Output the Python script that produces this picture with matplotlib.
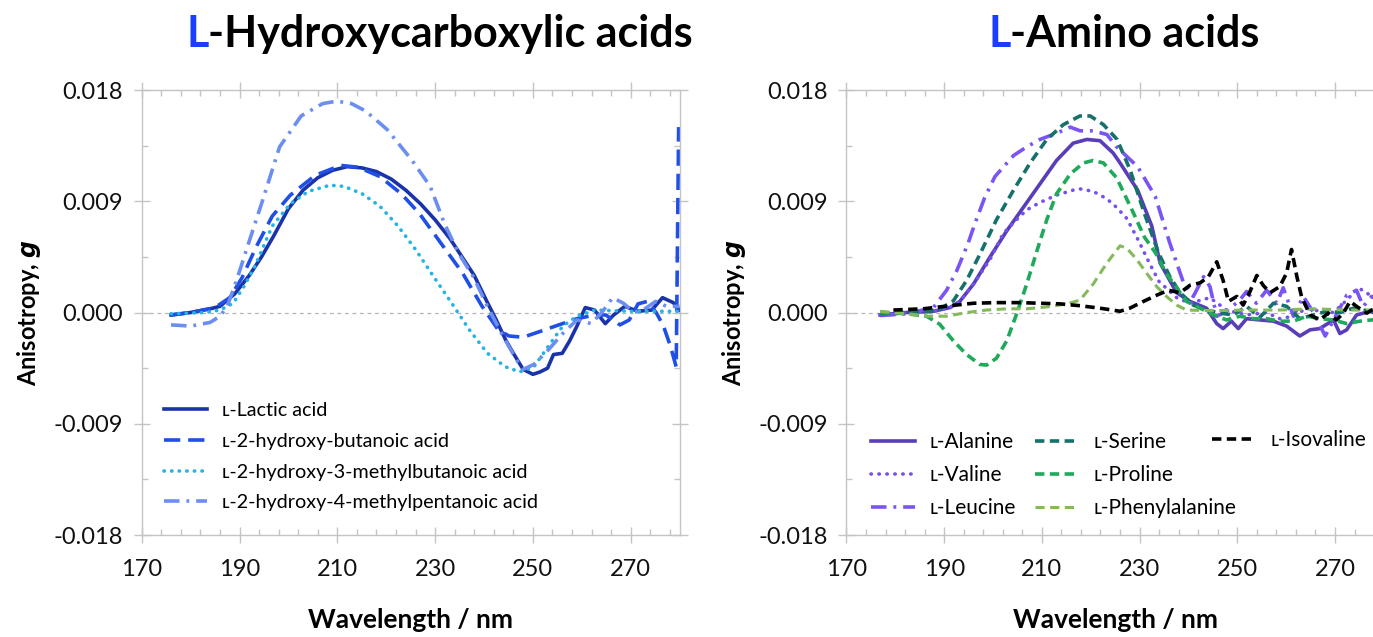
import matplotlib
matplotlib.use('Agg')
import matplotlib.pyplot as plt
from matplotlib.ticker import FormatStrFormatter
import numpy as np

plt.rcParams['font.family'] = ['Lato', 'DejaVu Sans']
plt.rcParams['axes.unicode_minus'] = False

# ---- left panel: L-hydroxycarboxylic acids (g in units of 1e-3) ----
lactic_nm = [176, 180, 184, 186, 189, 192, 194.5, 197, 200, 203, 206, 209, 212, 215, 218, 221,
             224, 227, 230, 233, 236, 238, 240.7, 242.5, 244.4, 246, 248, 250, 251.5, 253, 254.2,
             256, 257.5, 259, 260.7, 262.6, 264.8, 266.5, 268.8, 271.4, 274.3, 276.5, 278.7, 280]
lactic_g = [-0.2, 0.0, 0.3, 0.5, 1.5, 3.0, 4.5, 6.2, 8.4, 9.9, 10.9, 11.5, 11.8, 11.7, 11.4, 10.8,
            9.9, 8.8, 7.5, 6.0, 4.2, 3.0, 0.8, -0.6, -2.2, -3.3, -4.6, -5.0, -4.8, -4.5, -3.4,
            -3.3, -2.3, -1.1, 0.4, 0.2, -0.9, -0.2, 0.5, 0.1, 0.2, 1.2, 0.8, 0.2]

butanoic_nm = [176, 180, 185, 188, 190.5, 193.4, 196.7, 200.4, 205.5, 210.7, 214.3, 218.7, 223.1,
               226.8, 231.2, 235.6, 239.6, 242.9, 245.1, 248, 251.7, 255.3, 259, 262.7, 264.9,
               267.8, 269.7, 271.5, 273.4, 275.2, 276.7, 278.1, 279.3, 279.8]
butanoic_g = [-0.2, 0.0, 0.4, 1.2, 2.8, 5.3, 7.8, 9.5, 11.1, 11.9, 11.75, 11.0, 9.6,
              8.0, 5.6, 3.2, 0.5, -1.4, -1.9, -2.0, -1.5, -1.0, -0.5, -0.2, -0.2,
              -1.0, -0.6, 0.7, 0.9, 0.0, -1.1, -2.7, -4.4, 15.0]

mbutanoic_nm = [176, 183, 186, 188.7, 190.9, 193.1, 196.7, 200.4, 204.1, 208.5, 211.4, 215.1, 218.7,
                222.4, 226.0, 229.7, 233.4, 237.0, 240.7, 244.4, 247.3, 250.2, 253.2, 256.1,
                259.0, 262.7, 270, 280]
mbutanoic_g = [-0.1, 0.0, 0.2, 0.75, 2.1, 3.7, 7.0, 8.8, 9.8, 10.3, 10.2, 9.6, 8.6,
               7.0, 5.1, 2.9, 0.75, -1.4, -3.3, -4.4, -4.8, -4.4, -2.7, -1.1,
               -0.3, 0.2, 0.1, 0.1]

mpentanoic_nm = [176, 180, 184, 186, 187.5, 189.4, 191.6, 194.5, 198.2, 202.6, 207.0, 209.9, 212.9,
                 215.8, 220.2, 225.3, 229.0, 231.9, 234.8, 237.8, 240.7, 243.6, 246.6, 248.0,
                 250.2, 253.2, 256.1, 259.0, 261.9, 264.1, 266.3, 268.5, 270.7, 272.9, 275.1,
                 277.3, 280]
mpentanoic_g = [-1.0, -1.1, -0.8, -0.3, 0.5, 2.6, 5.3, 8.8, 13.4, 15.9, 16.9, 17.1, 16.9,
                16.3, 14.8, 12.3, 10.2, 7.2, 4.8, 2.9, 0.5, -1.7, -3.8, -4.6,
                -4.2, -3.0, -1.7, -0.6, -0.9, 0.0, 1.2, 0.75, 0.0, 0.3, 0.9,
                0.5, 0.5]

# ---- right panel: L-amino acids ----
alanine_nm = [176.9, 182.3, 187.8, 191.2, 193.2, 196.0, 199.4, 202.8, 206.2, 209.6, 213.0, 216.4,
              219.2, 221.9, 224.6, 226.0, 229.6, 232.5, 234.2, 237.6, 240.3, 243.7, 245.8, 247.1,
              248.8, 250.2, 251.9, 254.6, 257.4, 260.1, 262.8, 264.9, 266.9, 269.7, 271.0, 272.4,
              274.4, 277.2, 280]
alanine_g = [-0.2, 0.0, 0.1, 0.4, 0.9, 2.3, 4.5, 6.6, 8.5, 10.4, 12.3, 13.7,
             14.0, 13.9, 12.9, 12.1, 9.9, 7.0, 4.0, 1.6, 0.9, 0.35, -0.9, -1.3,
             -0.7, -1.3, -0.5, -0.6, -0.7, -1.1, -1.9, -1.4, -1.3, -0.6, -1.7, -1.4,
             -0.2, 0.1, -0.3]

valine_nm = [176.9, 182.3, 187.8, 191.2, 193.2, 196.0, 199.4, 202.1, 204.8, 206.9, 209.6, 213.0,
             216.4, 217.8, 220.5, 223.3, 225.3, 227.4, 229.8, 232.0, 234.0, 237.6, 240.3, 244.4,
             247.8, 251.9, 256.0, 258.7, 261.5, 264.2, 266.9, 269.7, 272.4, 274.8, 277.2, 280]
valine_g = [-0.2, 0.0, 0.1, 0.4, 0.9, 2.3, 4.3, 6.4, 7.5, 8.3, 8.9, 9.5,
            9.9, 10.0, 9.8, 9.2, 8.5, 7.6, 5.8, 4.0, 2.5, 1.2, 0.75, 1.2,
            0.2, -0.2, 0.0, -0.5, -0.3, 0.35, 0.1, 0.0, 1.0, 2.0, 1.4, 0.8]

leucine_nm = [176.9, 182.3, 187.8, 190.5, 192.6, 194.9, 196.3, 198.3, 200.4, 204.2, 206.9, 209.6,
              213.0, 215.8, 217.8, 220.5, 223.3, 225.3, 229.6, 233.2, 236.2, 237.6, 239.0, 241.0,
              243.1, 244.4, 245.8, 247.8, 250.5, 251.9, 253.9, 256.0, 258.1, 259.4, 261.5, 263.5,
              265.6, 268.0, 269.7, 272.4, 274.4, 275.8, 277.5, 280]
leucine_g = [-0.25, -0.1, 0.4, 1.8, 3.4, 5.6, 7.2, 9.3, 11.0, 12.7, 13.4, 14.0,
             14.5, 15.0, 14.7, 14.7, 14.4, 13.4, 11.8, 9.4, 5.6, 4.0, 2.4, 1.3,
             2.9, 2.1, -0.3, 0.1, 1.0, 1.7, 0.75, 1.8, 0.75, 2.0, -0.3, 1.3,
             0.0, -1.9, -0.6, 1.4, 1.8, 0.5, 1.3, 0.8]

serine_nm = [176.9, 182.3, 187.0, 189.2, 191.9, 194.6, 197.3, 200.7, 204.2, 207.6, 211.0, 214.4,
             217.8, 219.9, 222.6, 225.4, 228.1, 231.0, 233.9, 236.2, 238.3, 241.0, 243.7, 246.5,
             249.2, 251.9, 254.6, 257.4, 260.1, 262.8, 265.6, 268.3, 271.0, 273.8, 277.2, 280]
serine_g = [-0.1, 0.0, 0.1, 0.3, 0.95, 2.6, 4.7, 7.5, 9.9, 12.1, 14.0, 15.2,
            15.9, 15.9, 15.2, 14.0, 11.5, 8.0, 4.8, 2.9, 1.6, 0.6, 0.2, -0.05,
            -0.2, 0.5, -0.4, 0.75, 0.5, -0.5, -0.2, 0.1, 0.0, 0.35, 0.1, 0.0]

proline_nm = [176.9, 182.3, 186.4, 189.1, 191.9, 194.6, 197.3, 198.7, 200.7, 202.8, 204.8, 206.9,
              209.0, 211.0, 213.0, 215.8, 218.5, 220.5, 222.6, 225.3, 228.8, 231.0, 233.3, 235.4,
              237.6, 239.6, 242.4, 245.1, 247.8, 250.5, 253.3, 256.0, 258.7, 261.5, 264.2, 266.9,
              269.7, 272.4, 275.1, 277.5, 280]
proline_g = [0.0, -0.1, -0.3, -0.95, -2.3, -3.4, -4.2, -4.25, -3.7, -2.3, -0.15, 2.3,
             5.0, 7.5, 9.6, 11.2, 12.1, 12.3, 12.1, 10.9, 8.0, 6.1, 4.8, 3.2,
             2.0, 0.9, 0.35, -0.2, -0.6, -0.3, -0.5, -0.5, -0.7, -0.7, -0.3, -0.5,
             -0.6, -0.9, -0.7, -0.6, -0.6]

phenyl_nm = [176.9, 182.3, 186.4, 190.5, 194.6, 198.7, 202.8, 206.9, 211.0, 215.1, 217.8, 220.5,
             223.3, 226.0, 227.4, 229.4, 231.4, 233.5, 235.5, 237.6, 239.6, 245.1, 251.9, 258.7,
             265.6, 272.4, 280]
phenyl_g = [0.1, -0.1, -0.3, -0.3, 0.0, 0.2, 0.3, 0.3, 0.45, 0.7, 1.0, 2.3,
            4.0, 5.4, 5.2, 4.3, 3.2, 2.1, 1.3, 0.6, 0.2, 0.15, 0.2, 0.2,
            0.3, 0.2, 0.2]

isovaline_nm = [179.6, 185.7, 191.2, 196.0, 200.7, 205.5, 209.6, 213.7, 217.8, 221.9, 226.0, 228.0,
                230.8, 233.5, 235.9, 238.3, 240.3, 242.4, 244.1, 245.8, 247.1, 248.2, 249.9, 251.2,
                252.6, 254.0, 255.3, 256.7, 258.7, 260.1, 261.1, 262.2, 263.2, 264.9, 266.9, 268.6,
                270.3, 271.7, 273.1, 274.4, 276.5, 277.5, 280]
isovaline_g = [0.2, 0.3, 0.55, 0.75, 0.8, 0.8, 0.75, 0.7, 0.55, 0.35, 0.1, 0.35,
               0.9, 1.4, 1.8, 1.6, 2.2, 2.4, 2.9, 4.1, 2.6, 0.9, 1.3, 0.6,
               1.7, 3.0, 2.2, 1.6, 2.1, 3.2, 5.1, 2.9, 1.2, -0.2, -0.6, -0.05,
               -0.6, -0.05, 0.9, 0.5, -0.05, 0.2, 0.5]

x_major = [170, 190, 210, 230, 250, 270]
y_major = [-0.018, -0.009, 0.0, 0.009, 0.018]

SC = '\u029f'  # small capital L
GRID = '#c4c4c4'


def style_axes(ax):
    ax.set_ylim(-0.018, 0.018)
    ax.set_xlim(170, 280)
    ax.axhline(0, color='#b5b5b5', lw=0.9, ls=(0, (3, 3)), zorder=0)
    ax.set_xticks(x_major)
    ax.set_xticks(np.arange(170, 281, 4), minor=True)
    ax.set_yticks(y_major)
    ax.set_yticks(np.arange(-0.018, 0.0181, 0.0045), minor=True)
    ax.yaxis.set_major_formatter(FormatStrFormatter('%.3f'))
    for s in ax.spines.values():
        s.set_color(GRID)
        s.set_linewidth(1.0)
    ax.tick_params(which='major', direction='inout', length=11, width=1, color=GRID,
                   top=True, right=True, labelsize=17, labelcolor='#111111')
    ax.tick_params(which='minor', direction='in', length=4.5, width=1, color=GRID,
                   top=True, right=True)
    ax.tick_params(axis='x', which='major', pad=12)
    ax.tick_params(axis='y', which='major', pad=8)
    ax.set_xlabel('Wavelength / nm', fontsize=19, fontweight='bold')
    ax.set_ylabel('Anisotropy, $\\boldsymbol{g}$', fontsize=17, fontweight='bold')
    ax.xaxis.set_label_coords(0.5, -0.165)
    ax.yaxis.set_label_coords(-0.183, 0.5)


def title(ax, x, y, rest):
    t1 = ax.figure.text(x, y, 'L', color='#1a3dff', fontsize=31, fontweight='bold', va='bottom')
    ax.annotate(rest, xy=(1, 0), xycoords=t1, va='bottom', ha='left',
                fontsize=31, fontweight='bold', color='black', annotation_clip=False)


fig = plt.figure(figsize=(13.73, 6.37), dpi=100)
ax1 = fig.add_axes([0.1032, 0.1601, 0.3918, 0.6986])
ax2 = fig.add_axes([0.6165, 0.1601, 0.3914, 0.6986])

butt = dict(dash_capstyle='butt', solid_capstyle='round')
l1 = []
l1.append(ax1.plot(lactic_nm, np.array(lactic_g) * 1e-3, color='#1a33a8', lw=2.6,
                   label=SC + '-Lactic acid')[0])
l1.append(ax1.plot(butanoic_nm, np.array(butanoic_g) * 1e-3, color='#1f4fe6', lw=2.6,
                   ls=(0, (4.5, 2.2)), label=SC + '-2-hydroxy-butanoic acid', **butt)[0])
l1.append(ax1.plot(mbutanoic_nm, np.array(mbutanoic_g) * 1e-3, color='#22b4e4', lw=2.6,
                   ls=(0, (0.1, 2.0)), dash_capstyle='round',
                   label=SC + '-2-hydroxy-3-methylbutanoic acid')[0])
l1.append(ax1.plot(mpentanoic_nm, np.array(mpentanoic_g) * 1e-3, color='#6c8ef0', lw=2.6,
                   ls=(0, (4.3, 1.9, 0.8, 1.9)), label=SC + '-2-hydroxy-4-methylpentanoic acid',
                   **butt)[0])

style_axes(ax1)

a_ala = ax2.plot(alanine_nm, np.array(alanine_g) * 1e-3, color='#5a3db8', lw=2.6,
                 label=SC + '-Alanine')[0]
a_val = ax2.plot(valine_nm, np.array(valine_g) * 1e-3, color='#7650ee', lw=2.6,
                 ls=(0, (0.1, 2.1)), dash_capstyle='round', label=SC + '-Valine')[0]
a_leu = ax2.plot(leucine_nm, np.array(leucine_g) * 1e-3, color='#7a54f4', lw=2.6,
                 ls=(0, (4.3, 1.9, 0.8, 1.9)), label=SC + '-Leucine', **butt)[0]
a_ser = ax2.plot(serine_nm, np.array(serine_g) * 1e-3, color='#17716b', lw=2.6,
                 ls=(0, (2.6, 1.5)), label=SC + '-Serine', **butt)[0]
a_pro = ax2.plot(proline_nm, np.array(proline_g) * 1e-3, color='#1faa5b', lw=2.6,
                 ls=(0, (2.6, 1.5)), label=SC + '-Proline', **butt)[0]
a_phe = ax2.plot(phenyl_nm, np.array(phenyl_g) * 1e-3, color='#86b95c', lw=2.2,
                 ls=(0, (3.0, 1.8)), label=SC + '-Phenylalanine', **butt)[0]
a_iso = ax2.plot(isovaline_nm, np.array(isovaline_g) * 1e-3, color='#000000', lw=2.6,
                 ls=(0, (2.6, 1.5)), label=SC + '-Isovaline', **butt)[0]

style_axes(ax2)

leg_kw = dict(loc='upper left', frameon=False, borderpad=0, borderaxespad=0,
              handletextpad=0.72, bbox_transform=fig.transFigure)
fig.legend(handles=l1, bbox_to_anchor=(0.1194, 0.369), fontsize=14.2,
           handlelength=2.2, labelspacing=0.7, **leg_kw)
kw_r = dict(fontsize=15, handlelength=2.1, labelspacing=0.62, **leg_kw)
fig.legend(handles=[a_ala, a_val, a_leu], bbox_to_anchor=(0.6344, 0.3218), **kw_r)
fig.legend(handles=[a_ser, a_pro, a_phe], bbox_to_anchor=(0.7538, 0.3218), **kw_r)
fig.legend(handles=[a_iso], bbox_to_anchor=(0.8824, 0.325), **kw_r)

title(ax1, 186 / 1373, 0.915, '-Hydroxycarboxylic acids')
title(ax2, 988 / 1373, 0.915, '-Amino acids')

fig.savefig('out.png', dpi=100)
